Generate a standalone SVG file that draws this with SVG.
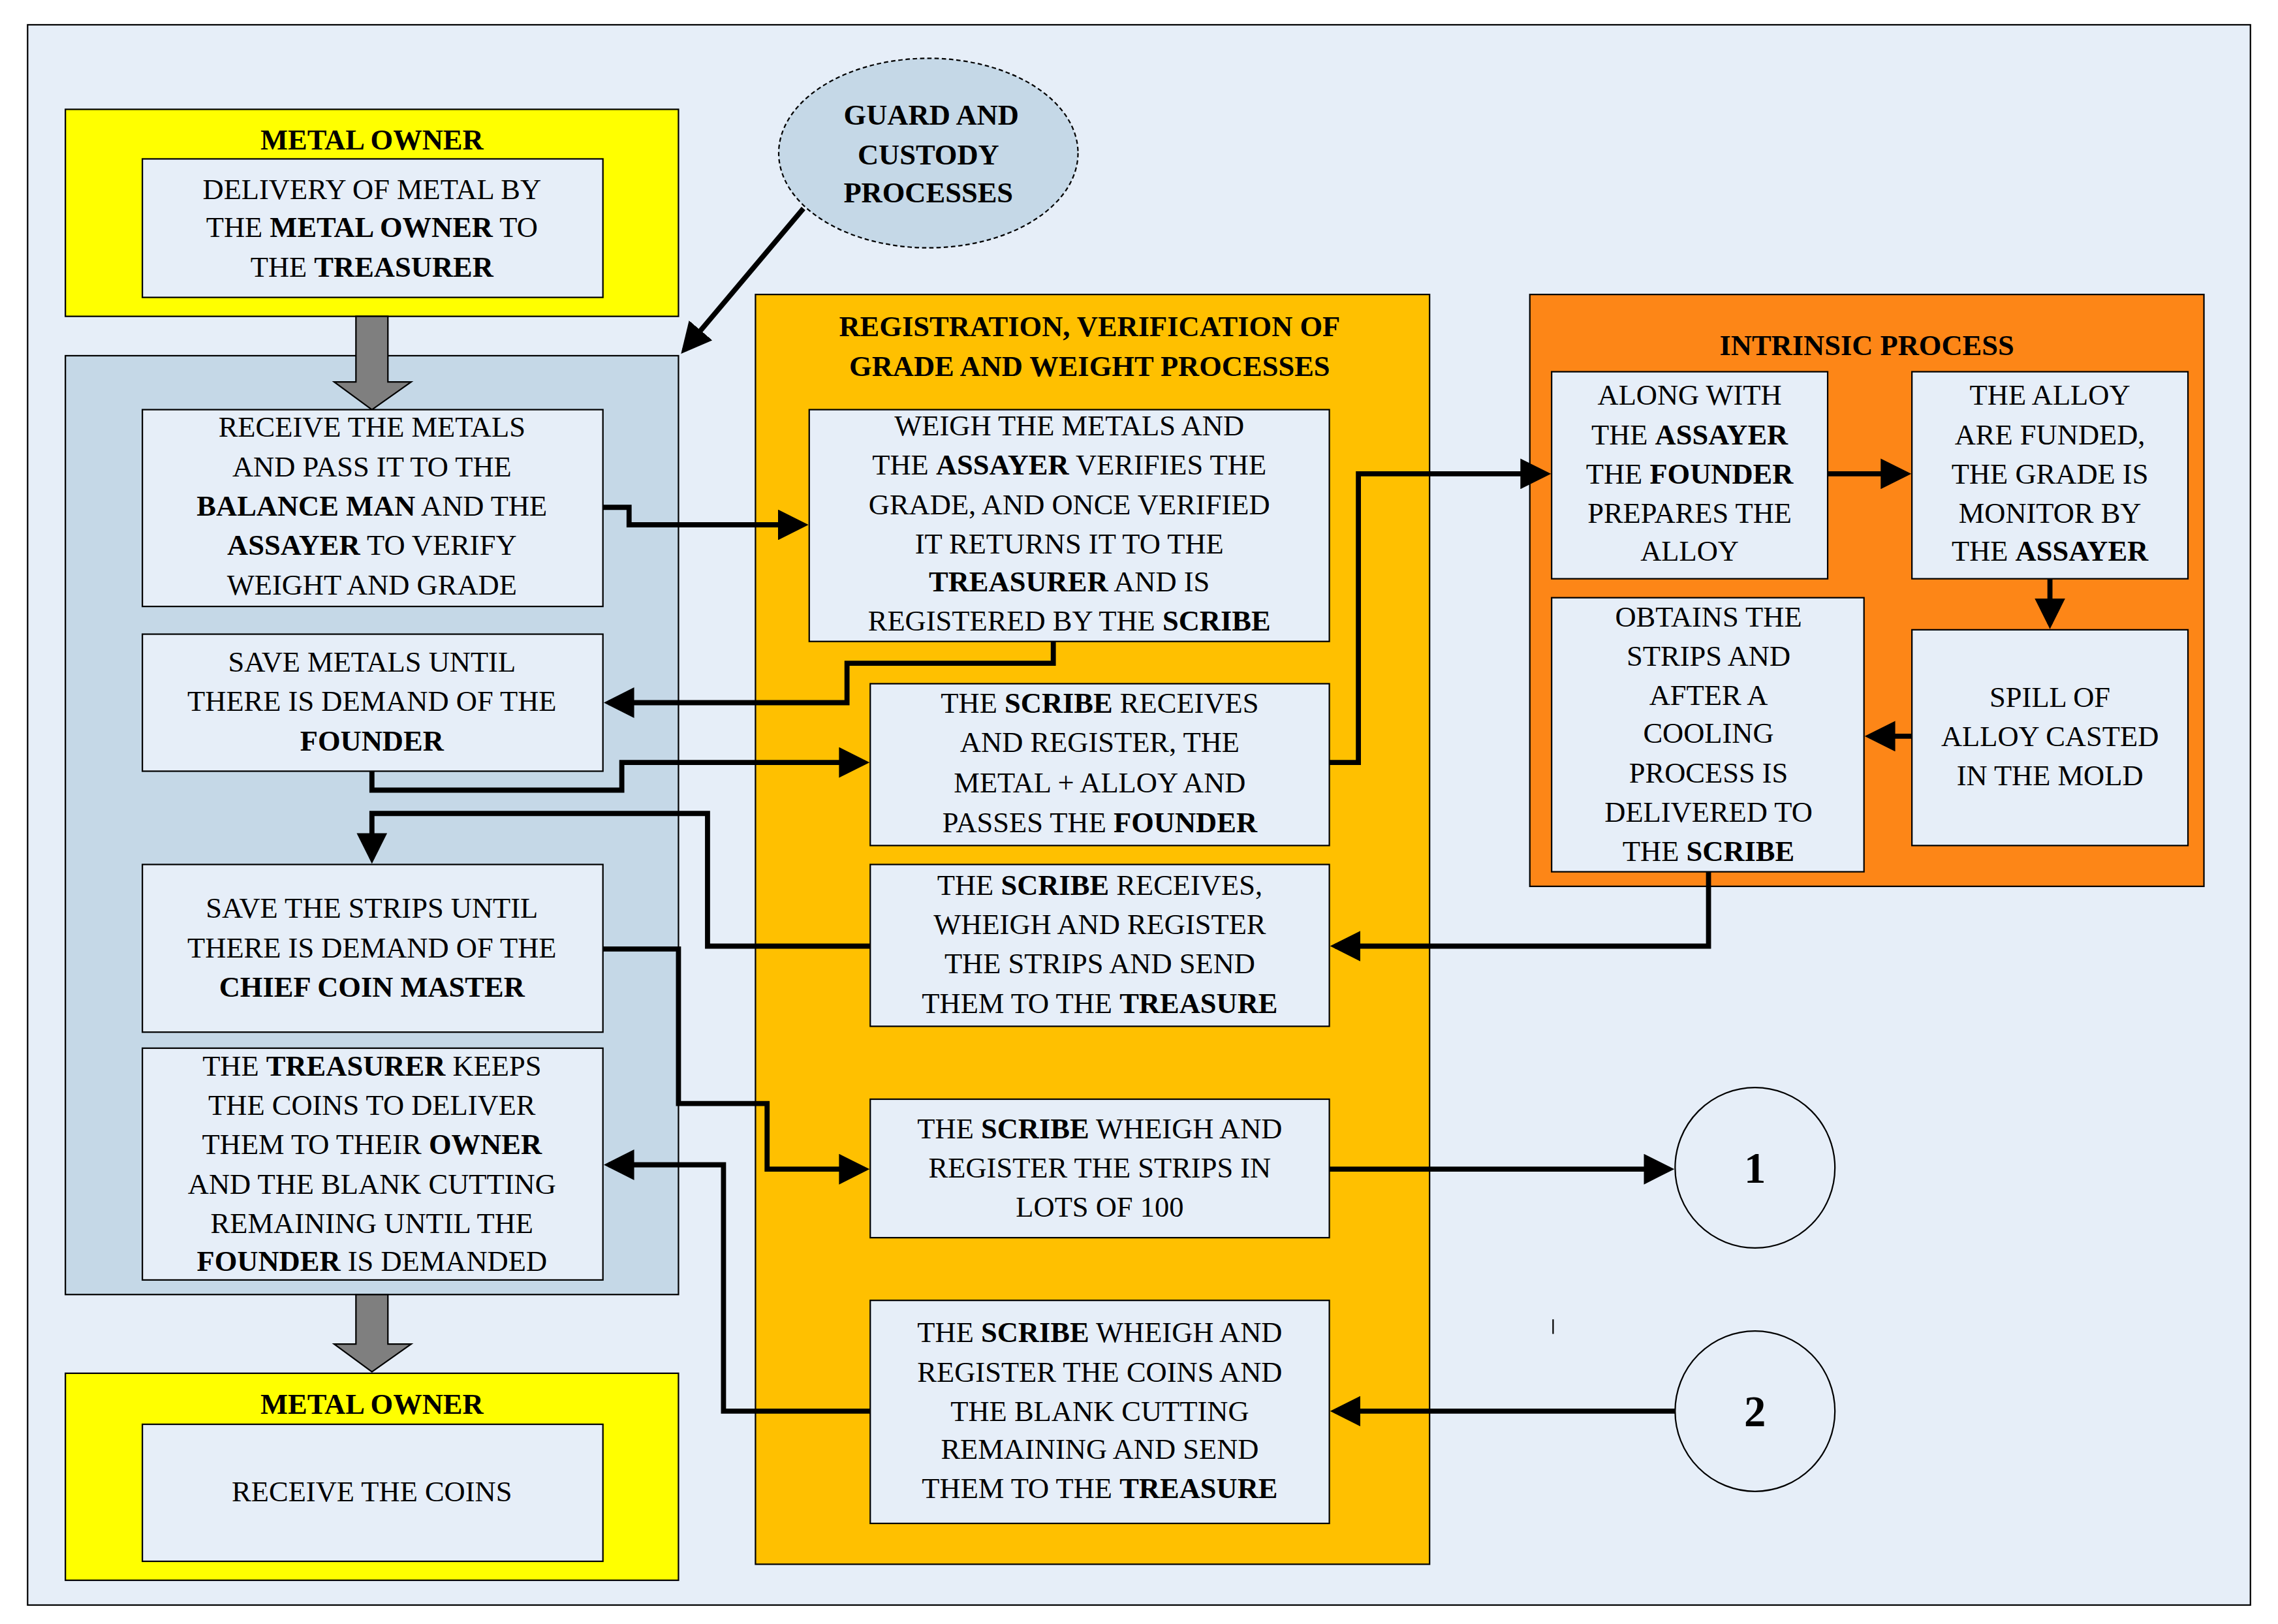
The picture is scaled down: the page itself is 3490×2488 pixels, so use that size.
<svg xmlns="http://www.w3.org/2000/svg" width="3490" height="2488" viewBox="0 0 3490 2488">
<style>
text{font-family:"Liberation Serif","DejaVu Serif",serif;font-size:20px;text-anchor:middle;dominant-baseline:central;fill:#000}
.b{font-weight:bold}
.t{font-weight:bold;font-size:20px}
.box{fill:#e6eef8;stroke:#000;stroke-width:1}
.c{fill:none;stroke:#000;stroke-width:3.5}
.num{font-weight:bold;font-size:30px}
</style>
<defs>
<marker id="ah" markerWidth="6" markerHeight="6" refX="5" refY="3" orient="auto" markerUnits="strokeWidth"><path d="M0,0 L6,3 L0,6 z" fill="#000"/></marker>
</defs>
<rect width="3490" height="2488" fill="#fff"/>
<g transform="scale(2.2258,2.2334)">
<rect x="19" y="17" width="1530" height="1084" fill="#e6eef8" stroke="#000" stroke-width="1"/>

<g id="owner-top">
<rect x="45" y="75" width="422" height="142" fill="#ffff00" stroke="#000"/>
<text x="256" y="96" class="t">METAL OWNER</text>
<rect class="box" x="98" y="109" width="317" height="95"/>
<text x="256" y="130">DELIVERY OF METAL  BY</text>
<text x="256" y="156">THE <tspan class="b">METAL OWNER</tspan> TO</text>
<text x="256" y="183">THE <tspan class="b">TREASURER</tspan></text>
</g>

<g id="guard">
<ellipse cx="639" cy="105" rx="103" ry="65" fill="#c5d8e7" stroke="#000" stroke-dasharray="3,2"/>
<text x="641" y="79" class="t">GUARD AND</text>
<text x="639" y="106" class="t">CUSTODY</text>
<text x="639" y="132" class="t">PROCESSES</text>
</g>

<g id="treasurer-panel">
<rect x="45" y="244" width="422" height="644" fill="#c5d8e7" stroke="#000"/>
</g>
<g id="arrow-gray1"><path d="M245,217 H267 V262 H283 L256,281 L230,262 H245 Z" fill="#7f7f7f" stroke="#000"/></g>

<g id="n-receive">
<rect class="box" x="98" y="281" width="317" height="135"/>
<text x="256" y="293">RECEIVE THE METALS</text>
<text x="256" y="320">AND PASS IT TO THE</text>
<text x="256" y="347"><tspan class="b">BALANCE MAN</tspan> AND THE</text>
<text x="256" y="374"><tspan class="b">ASSAYER</tspan> TO VERIFY</text>
<text x="256" y="401">WEIGHT AND GRADE</text>
</g>
<g id="n-save-metals">
<rect class="box" x="98" y="435" width="317" height="94"/>
<text x="256" y="454">SAVE METALS UNTIL</text>
<text x="256" y="481">THERE IS DEMAND OF THE</text>
<text x="256" y="508" class="b">FOUNDER</text>
</g>
<g id="n-save-strips">
<rect class="box" x="98" y="593" width="317" height="115"/>
<text x="256" y="623">SAVE THE STRIPS UNTIL</text>
<text x="256" y="650">THERE IS DEMAND OF THE</text>
<text x="256" y="677" class="b">CHIEF COIN MASTER</text>
</g>
<g id="n-keeps">
<rect class="box" x="98" y="719" width="317" height="159"/>
<text x="256" y="731">THE <tspan class="b">TREASURER</tspan> KEEPS</text>
<text x="256" y="758">THE COINS TO DELIVER</text>
<text x="256" y="785">THEM TO THEIR <tspan class="b">OWNER</tspan></text>
<text x="256" y="812">AND THE BLANK CUTTING</text>
<text x="256" y="839">REMAINING UNTIL THE</text>
<text x="256" y="865"><tspan class="b">FOUNDER</tspan> IS DEMANDED</text>
</g>

<g id="arrow-gray2"><path d="M245,888 H267 V922 H283 L256,941 L230,922 H245 Z" fill="#7f7f7f" stroke="#000"/></g>

<g id="owner-bottom">
<rect x="45" y="942" width="422" height="142" fill="#ffff00" stroke="#000"/>
<text x="256" y="963" class="t">METAL OWNER</text>
<rect class="box" x="98" y="977" width="317" height="94"/>
<text x="256" y="1023">RECEIVE THE  COINS</text>
</g>

<g id="registration-panel">
<rect x="520" y="202" width="464" height="871" fill="#ffc000" stroke="#000"/>
<text x="750" y="224" class="t">REGISTRATION, VERIFICATION OF</text>
<text x="750" y="251" class="t">GRADE AND WEIGHT PROCESSES</text>
</g>
<g id="n-weigh">
<rect class="box" x="557" y="281" width="358" height="159"/>
<text x="736" y="292">WEIGH THE METALS  AND</text>
<text x="736" y="319">THE <tspan class="b">ASSAYER</tspan> VERIFIES THE</text>
<text x="736" y="346">GRADE, AND ONCE VERIFIED</text>
<text x="736" y="373">IT RETURNS IT TO THE</text>
<text x="736" y="399"><tspan class="b">TREASURER</tspan> AND IS</text>
<text x="736" y="426">REGISTERED BY THE <tspan class="b">SCRIBE</tspan></text>
</g>
<g id="n-scribe1">
<rect class="box" x="599" y="469" width="316" height="111"/>
<text x="757" y="482">THE <tspan class="b">SCRIBE</tspan> RECEIVES</text>
<text x="757" y="509">AND REGISTER, THE</text>
<text x="757" y="537">METAL + ALLOY AND</text>
<text x="757" y="564">PASSES THE <tspan class="b">FOUNDER</tspan></text>
</g>
<g id="n-scribe2">
<rect class="box" x="599" y="593" width="316" height="111"/>
<text x="757" y="607">THE <tspan class="b">SCRIBE</tspan> RECEIVES,</text>
<text x="757" y="634">WHEIGH AND REGISTER</text>
<text x="757" y="661">THE STRIPS AND SEND</text>
<text x="757" y="688">THEM TO THE <tspan class="b">TREASURE</tspan></text>
</g>
<g id="n-scribe3">
<rect class="box" x="599" y="754" width="316" height="95"/>
<text x="757" y="774">THE <tspan class="b">SCRIBE</tspan> WHEIGH AND</text>
<text x="757" y="801">REGISTER THE STRIPS IN</text>
<text x="757" y="828">LOTS OF 100</text>
</g>
<g id="n-scribe4">
<rect class="box" x="599" y="892" width="316" height="153"/>
<text x="757" y="914">THE <tspan class="b">SCRIBE</tspan> WHEIGH AND</text>
<text x="757" y="941">REGISTER THE COINS AND</text>
<text x="757" y="968">THE BLANK CUTTING</text>
<text x="757" y="994">REMAINING AND SEND</text>
<text x="757" y="1021">THEM TO THE <tspan class="b">TREASURE</tspan></text>
</g>

<g id="intrinsic-panel">
<rect x="1053" y="202" width="464" height="406" fill="#fd8617" stroke="#000"/>
<text x="1285" y="237" class="t">INTRINSIC PROCESS</text>
</g>
<g id="n-along">
<rect class="box" x="1068" y="255" width="190" height="142"/>
<text x="1163" y="271">ALONG WITH</text>
<text x="1163" y="298">THE <tspan class="b">ASSAYER</tspan></text>
<text x="1163" y="325">THE <tspan class="b">FOUNDER</tspan></text>
<text x="1163" y="352">PREPARES THE</text>
<text x="1163" y="378">ALLOY</text>
</g>
<g id="n-alloy">
<rect class="box" x="1316" y="255" width="190" height="142"/>
<text x="1411" y="271">THE ALLOY</text>
<text x="1411" y="298">ARE FUNDED,</text>
<text x="1411" y="325">THE GRADE IS</text>
<text x="1411" y="352">MONITOR BY</text>
<text x="1411" y="378">THE <tspan class="b">ASSAYER</tspan></text>
</g>
<g id="n-obtains">
<rect class="box" x="1068" y="410" width="215" height="188"/>
<text x="1176" y="423">OBTAINS THE</text>
<text x="1176" y="450">STRIPS AND</text>
<text x="1176" y="477">AFTER A</text>
<text x="1176" y="503">COOLING</text>
<text x="1176" y="530">PROCESS IS</text>
<text x="1176" y="557">DELIVERED TO</text>
<text x="1176" y="584">THE <tspan class="b">SCRIBE</tspan></text>
</g>
<g id="n-spill">
<rect class="box" x="1316" y="432" width="190" height="148"/>
<text x="1411" y="478">SPILL OF</text>
<text x="1411" y="505">ALLOY CASTED</text>
<text x="1411" y="532">IN THE MOLD</text>
</g>

<g id="c1"><circle cx="1208" cy="801" r="55" fill="#e6eef8" stroke="#000"/><text x="1208" y="801" class="num">1</text></g>
<g id="c2"><circle cx="1208" cy="968" r="55" fill="#e6eef8" stroke="#000"/><text x="1208" y="968" class="num">2</text></g>
<line x1="1069" y1="905" x2="1069" y2="915" stroke="#000" stroke-width="1"/>

<g id="connectors">
<path class="c" marker-end="url(#ah)" d="M553,143 L471,240"/>
<path class="c" marker-end="url(#ah)" d="M415,348 H433 V360 H553"/>
<path class="c" marker-end="url(#ah)" d="M725,440 V455 H583 V482 H419"/>
<path class="c" marker-end="url(#ah)" d="M256,529 V542 H428 V523 H595"/>
<path class="c" marker-end="url(#ah)" d="M915,523 H935 V325 H1064"/>
<path class="c" marker-end="url(#ah)" d="M1258,325 H1312"/>
<path class="c" marker-end="url(#ah)" d="M1411,397 V428"/>
<path class="c" marker-end="url(#ah)" d="M1316,505 H1287"/>
<path class="c" marker-end="url(#ah)" d="M1176,598 V649 H919"/>
<path class="c" marker-end="url(#ah)" d="M599,649 H487 V558 H256 V589"/>
<path class="c" marker-end="url(#ah)" d="M415,651 H467 V757 H528 V802 H595"/>
<path class="c" marker-end="url(#ah)" d="M915,802 H1149"/>
<path class="c" marker-end="url(#ah)" d="M1153,968 H919"/>
<path class="c" marker-end="url(#ah)" d="M599,968 H498 V799 H419"/>
</g>
</g>
</svg>
